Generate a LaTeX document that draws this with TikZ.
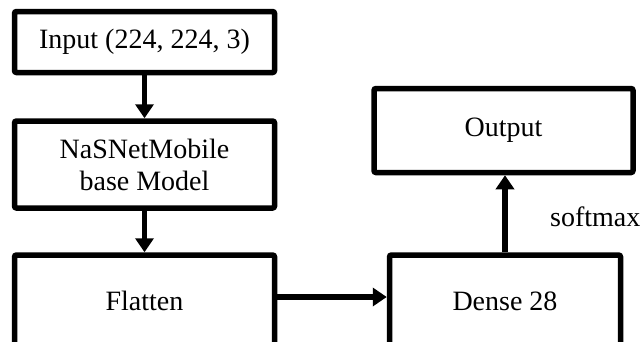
\documentclass[tikz,border=0pt]{standalone}
\usepackage{fontspec}
\setmainfont{Liberation Serif}
\usetikzlibrary{arrows.meta}
\begin{document}
\begin{tikzpicture}[x=1pt,y=-1pt,
  blk/.style={draw,line width=5.5pt,rounded corners=2pt,inner sep=0pt,align=center,
    font=\fontsize{28}{32}\selectfont},
  conn/.style={line width=5.5pt,-{Triangle[length=14pt,width=18pt]}},
  lbl/.style={inner sep=0pt,font=\fontsize{28}{32}\selectfont}]
\useasboundingbox (0,0) rectangle (641,341);
\node[blk,minimum width=260pt,minimum height=61pt] (input) at (144.5,42) {Input (224, 224, 3)};
\node[blk,minimum width=260pt,minimum height=87pt] (base) at (144.5,164.5) {NaSNetMobile\\base Model};
\node[blk,minimum width=260pt,minimum height=92pt] (flat) at (144.5,301) {Flatten};
\node[blk,minimum width=231pt,minimum height=92pt] (dense) at (505,301) {Dense 28};
\node[blk,minimum width=259pt,minimum height=84pt] (out) at (503.5,130.5) {Output};
\draw[conn] (input) -- (base);
\draw[conn] (base) -- (flat);
\draw[conn] ([yshift=4pt]flat.east) -- ([yshift=4pt]dense.west);
\draw[conn] (dense.north) -- (dense.north |- out.south);
\node[lbl,anchor=west] (sm) at (550,217) {softmax};
\end{tikzpicture}
\end{document}
